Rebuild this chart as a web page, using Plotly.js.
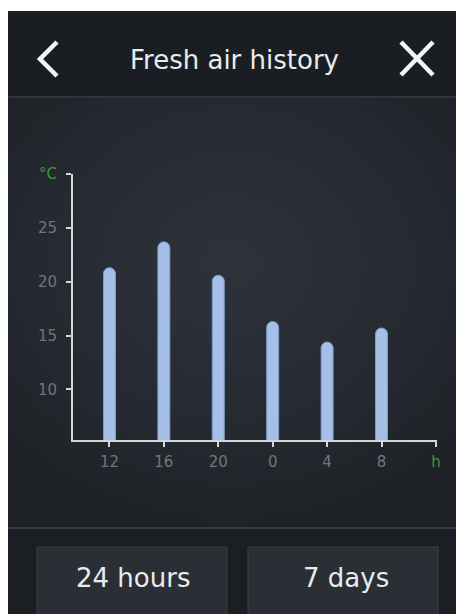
<!DOCTYPE html>
<html>
<head>
<meta charset="utf-8">
<script src="https://cdn.plot.ly/plotly-3.0.1.min.js"></script>
<style>
html,body{margin:0;padding:0;width:456px;height:614px;overflow:hidden;background:#ffffff;}
#panel{position:absolute;left:8px;top:11px;width:448px;height:603px;
  background:radial-gradient(ellipse 70% 45% at 50% 42%, #2e333b 0%, #262b32 55%, #1e2227 100%);}
#chart{position:absolute;left:0;top:0;width:456px;height:614px;}
</style>
</head>
<body>
<div id="panel"></div>
<div id="chart"></div>
<script>
// Data
const hours = ['12', '16', '20', '0', '4', '8'];
const temperatures = [21.3, 23.7, 20.6, 16.3, 14.4, 15.7];
const yTickValues = [10, 15, 20, 25, 30];
const yTickLabels = ['10', '15', '20', '25', '<span style="color:#3c9a3a">°C</span>'];
const xUnitLabel = '<span style="color:#3c9a3a">h</span>';
const titleText = 'Fresh air history';
const buttonLabels = ['24 hours', '7 days'];

const W = 456, H = 614;
const px = x => x / W;
const py = y => 1 - y / H;

const positions = hours.map((_, i) => i);

const trace = {
  type: 'bar',
  x: positions,
  y: temperatures,
  base: 0,
  width: 0.22,
  marker: {
    color: '#a6bfe8',
    line: {color: '#7f9cc9', width: 1},
    cornerradius: 6
  },
  hoverinfo: 'skip'
};

const font = 'DejaVu Sans, sans-serif';

const layout = {
  width: W, height: H,
  margin: {l: 0, r: 0, t: 0, b: 0},
  paper_bgcolor: 'rgba(0,0,0,0)',
  plot_bgcolor: 'rgba(0,0,0,0)',
  showlegend: false,
  font: {family: font, color: '#ffffff'},
  xaxis: {
    domain: [px(73), px(437)],
    range: [-0.67, 6.02],
    tickmode: 'array',
    tickvals: positions.concat([6]),
    ticktext: hours.concat([xUnitLabel]),
    showgrid: false, zeroline: false,
    showline: true, linecolor: '#d3d7dc', linewidth: 2,
    ticks: 'outside', ticklen: 5, tickwidth: 2, tickcolor: '#d3d7dc',
    ticklabelstandoff: 2,
    tickfont: {family: font, size: 15, color: '#6f767e'},
    fixedrange: true
  },
  yaxis: {
    domain: [py(440), py(174)],
    range: [5.3, 30],
    tickmode: 'array',
    tickvals: yTickValues,
    ticktext: yTickLabels,
    showgrid: false, zeroline: false,
    showline: true, linecolor: '#d3d7dc', linewidth: 2,
    ticks: 'outside', ticklen: 5, tickwidth: 2, tickcolor: '#d3d7dc',
    ticklabelstandoff: 6,
    tickfont: {family: font, size: 15, color: '#6f767e'},
    fixedrange: true
  },
  shapes: [
    // header background
    {type: 'rect', xref: 'paper', yref: 'paper', x0: px(8), x1: 1, y0: py(97), y1: py(11),
     fillcolor: '#1a1e23', line: {width: 0}, layer: 'below'},
    {type: 'line', xref: 'paper', yref: 'paper', x0: px(8), x1: 1, y0: py(97), y1: py(97),
     line: {color: '#30353b', width: 2}},
    // footer background
    {type: 'rect', xref: 'paper', yref: 'paper', x0: px(8), x1: 1, y0: 0, y1: py(528),
     fillcolor: '#1b1f24', line: {width: 0}, layer: 'below'},
    {type: 'line', xref: 'paper', yref: 'paper', x0: px(8), x1: 1, y0: py(528), y1: py(528),
     line: {color: '#353a40', width: 2}},
    // buttons
    {type: 'rect', xref: 'paper', yref: 'paper', x0: px(37), x1: px(227), y0: py(618), y1: py(547),
     fillcolor: '#2a2f35', line: {color: '#3a4047', width: 1}, layer: 'below'},
    {type: 'rect', xref: 'paper', yref: 'paper', x0: px(248), x1: px(438), y0: py(618), y1: py(547),
     fillcolor: '#2a2f35', line: {color: '#3a4047', width: 1}, layer: 'below'},
    // back chevron
    {type: 'path', xref: 'paper', yref: 'paper',
     path: `M ${px(57)} ${py(42)} L ${px(40)} ${py(59)} L ${px(57)} ${py(76)}`,
     line: {color: '#f4f5f6', width: 4.5}},
    // close X
    {type: 'line', xref: 'paper', yref: 'paper', x0: px(401), x1: px(433), y0: py(42), y1: py(75),
     line: {color: '#f4f5f6', width: 4.5}},
    {type: 'line', xref: 'paper', yref: 'paper', x0: px(401), x1: px(433), y0: py(75), y1: py(42),
     line: {color: '#f4f5f6', width: 4.5}}
  ],
  annotations: [
    {text: titleText, xref: 'paper', yref: 'paper', x: px(234), y: py(60),
     xanchor: 'center', yanchor: 'middle', showarrow: false,
     font: {family: font, size: 26, color: '#e9ebee'}},
    {text: buttonLabels[0], xref: 'paper', yref: 'paper', x: px(133), y: py(578),
     xanchor: 'center', yanchor: 'middle', showarrow: false,
     font: {family: font, size: 26, color: '#e9ebee'}},
    {text: buttonLabels[1], xref: 'paper', yref: 'paper', x: px(346), y: py(578),
     xanchor: 'center', yanchor: 'middle', showarrow: false,
     font: {family: font, size: 26, color: '#e9ebee'}}
  ]
};

Plotly.newPlot('chart', [trace], layout, {displayModeBar: false, staticPlot: true});
</script>
</body>
</html>
